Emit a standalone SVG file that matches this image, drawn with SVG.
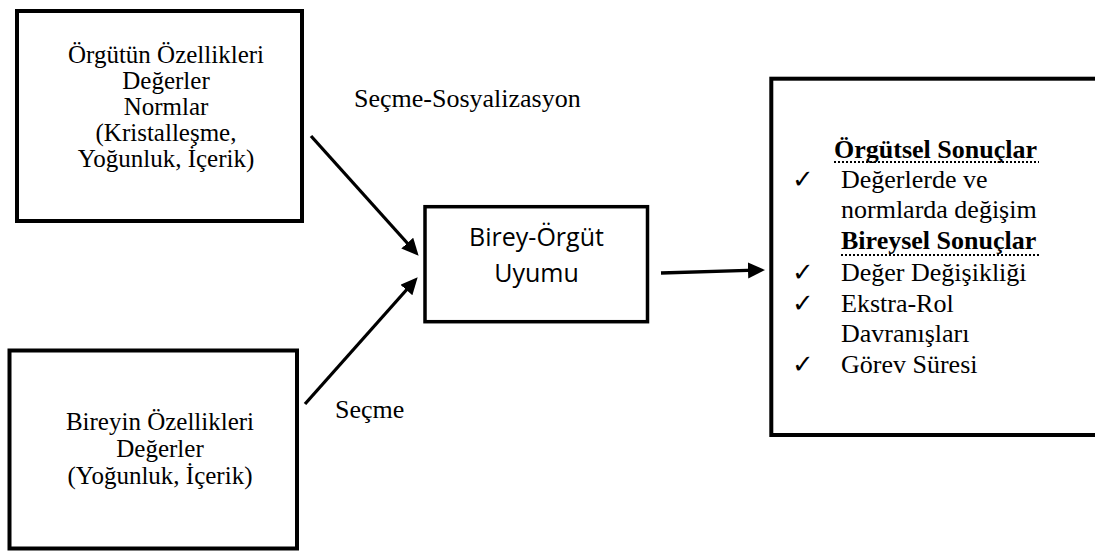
<svg xmlns="http://www.w3.org/2000/svg" width="1095" height="551" viewBox="0 0 1095 551">
<style>
.box{fill:#fff;stroke:#000;stroke-width:4}
.cbox{fill:#fff;stroke:#000;stroke-width:3.5}
.t{font-family:"Liberation Serif","Times New Roman",serif;font-size:26px;fill:#000}
.t25{font-size:25px}
.c{text-anchor:middle}
.b{font-weight:bold}
.s{font-family:"Open Sans","Liberation Sans",sans-serif;font-size:25px;fill:#000;text-anchor:middle}
.ck{font-family:"DejaVu Sans",sans-serif;font-size:26px;fill:#000}
.dot{stroke:#000;stroke-width:2;stroke-dasharray:2 2}
.arr{stroke:#000;stroke-width:3.3;fill:none;marker-end:url(#ah)}
</style>
<defs>
<marker id="ah" markerUnits="userSpaceOnUse" markerWidth="20" markerHeight="18" refX="8" refY="8" orient="auto">
<path d="M0,0 L17,8 L0,16 z" fill="#000"/>
</marker>
</defs>
<rect width="1095" height="551" fill="#fff"/>
<g id="node-orgut">
<rect class="box" x="17" y="11" width="285" height="210"/>
<text class="t t25 c" x="166" y="63">Örgütün Özellikleri</text>
<text class="t t25 c" x="166" y="89">Değerler</text>
<text class="t t25 c" x="166" y="115">Normlar</text>
<text class="t t25 c" x="166" y="141">(Kristalleşme,</text>
<text class="t t25 c" x="166" y="167">Yoğunluk, İçerik)</text>
</g>
<g id="node-birey">
<rect class="box" x="9.5" y="350.5" width="287.5" height="198"/>
<text class="t t25 c" x="160" y="430">Bireyin Özellikleri</text>
<text class="t t25 c" x="160" y="457">Değerler</text>
<text class="t t25 c" x="160" y="484">(Yoğunluk, İçerik)</text>
</g>
<g id="node-uyum">
<rect class="cbox" x="425" y="206.7" width="222.5" height="115"/>
<text class="s" x="536.5" y="246">Birey-Örgüt</text>
<text class="s" x="536.5" y="282">Uyumu</text>
</g>
<g id="node-sonuclar">
<rect class="box" x="771.3" y="78.7" width="330" height="356.3"/>
<text class="t b" x="834" y="158">Örgütsel Sonuçlar</text>
<line class="dot" x1="834" y1="162" x2="1039" y2="162"/>
<text class="ck" x="792" y="188">✓</text>
<text class="t" x="841" y="188">Değerlerde ve</text>
<text class="t" x="841" y="218">normlarda değişim</text>
<text class="t b" x="841" y="249">Bireysel Sonuçlar</text>
<line class="dot" x1="841" y1="255" x2="1039" y2="255"/>
<text class="ck" x="792" y="281">✓</text>
<text class="t" x="841" y="281">Değer Değişikliği</text>
<text class="ck" x="792" y="312">✓</text>
<text class="t" x="841" y="312">Ekstra-Rol</text>
<text class="t" x="841" y="342">Davranışları</text>
<text class="ck" x="792" y="373">✓</text>
<text class="t" x="841" y="373">Görev Süresi</text>
</g>
<g id="connectors">
<line class="arr" x1="311" y1="136" x2="412.6" y2="249"/>
<line class="arr" x1="305" y1="404" x2="411.7" y2="284"/>
<line class="arr" x1="661" y1="273" x2="756" y2="270.2"/>
<text class="t" x="354" y="107">Seçme-Sosyalizasyon</text>
<text class="t" x="335" y="418">Seçme</text>
</g>
</svg>
